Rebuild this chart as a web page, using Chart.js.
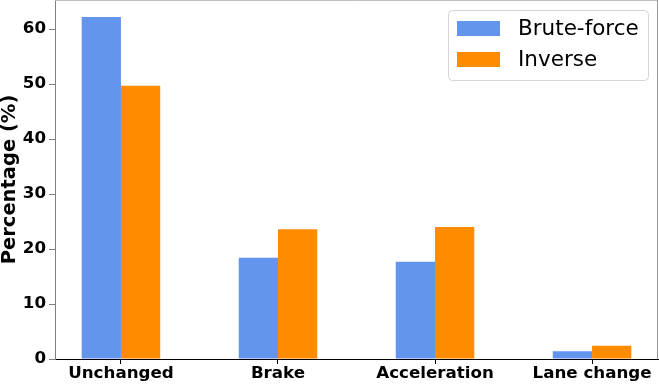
<!DOCTYPE html>
<html>
<head>
<meta charset="utf-8">
<script src="https://cdn.jsdelivr.net/npm/chart.js@4/dist/chart.umd.min.js"></script>
<style>
html,body{margin:0;padding:0;background:#fff;}
#wrap{width:659px;height:384px;position:relative;}
</style>
</head>
<body>
<div id="wrap"><canvas id="c" width="659" height="384"></canvas></div>
<script>
const categories = ["Unchanged", "Brake", "Acceleration", "Lane change"];
const bruteForce = [62.2, 18.4, 17.7, 1.4];
const inverse = [49.7, 23.6, 24.0, 2.4];
const yTicks = [0, 10, 20, 30, 40, 50, 60];
const seriesNames = ["Brute-force", "Inverse"];
const seriesColors = ["#6495ED", "#FF8C00"];

const toPoints = arr => arr.map((v, i) => ({x: i, y: v}));

const spinesPlugin = {
  id: 'spines',
  afterDraw(chart) {
    const ctx = chart.ctx, a = chart.chartArea;
    ctx.save();
    ctx.lineWidth = 1;
    ctx.strokeStyle = '#bfbfbf';
    ctx.beginPath();
    ctx.moveTo(a.left, a.top + 0.5);
    ctx.lineTo(a.right, a.top + 0.5);
    ctx.stroke();
    ctx.strokeStyle = '#999999';
    ctx.beginPath();
    ctx.moveTo(a.right - 0.5, a.top);
    ctx.lineTo(a.right - 0.5, a.bottom);
    ctx.stroke();
    ctx.restore();
  }
};

const legendPlugin = {
  id: 'customLegend',
  afterDraw(chart) {
    const ctx = chart.ctx;
    const x0 = 448.5, y0 = 10.5, w = 200, h = 70, r = 4;
    ctx.save();
    ctx.fillStyle = 'rgba(255,255,255,0.8)';
    ctx.strokeStyle = '#d5d5d5';
    ctx.lineWidth = 1;
    ctx.beginPath();
    ctx.roundRect(x0, y0, w, h, r);
    ctx.fill();
    ctx.stroke();
    ctx.font = '21.5px "DejaVu Sans"';
    ctx.textBaseline = 'middle';
    ctx.textAlign = 'left';
    chart.data.datasets.forEach((ds, i) => {
      const py = 21 + i * 31;
      ctx.fillStyle = ds.backgroundColor;
      ctx.fillRect(457, py, 43, 15);
      ctx.fillStyle = '#000';
      ctx.fillText(ds.label, 518, py + 8);
    });
    ctx.restore();
  }
};

const noPad = s => { s.paddingTop = 0; s.paddingBottom = 0; s.paddingLeft = 0; s.paddingRight = 0; };

new Chart(document.getElementById('c'), {
  type: 'bar',
  data: {
    datasets: [
      {label: seriesNames[0], data: toPoints(bruteForce), backgroundColor: seriesColors[0], borderWidth: 0},
      {label: seriesNames[1], data: toPoints(inverse), backgroundColor: seriesColors[1], borderWidth: 0}
    ]
  },
  options: {
    responsive: false,
    animation: false,
    devicePixelRatio: 1,
    layout: {padding: {top: 0, right: 1, bottom: 0, left: 0}},
    datasets: {bar: {categoryPercentage: 0.5, barPercentage: 1.0}},
    plugins: {legend: {display: false}, tooltip: {enabled: false}},
    scales: {
      x: {
        type: 'linear',
        min: -0.42,
        max: 3.42,
        offset: false,
        afterBuildTicks: s => { s.ticks = categories.map((c, i) => ({value: i})); },
        afterFit: s => { s.height = 25; noPad(s); },
        grid: {offset: false, drawOnChartArea: false, drawTicks: true, tickLength: 5, color: '#000'},
        border: {color: '#000', width: 1},
        ticks: {
          autoSkip: false, maxRotation: 0, padding: 0,
          color: '#000',
          font: {family: 'DejaVu Sans', size: 16.7, weight: 'bold'},
          callback: v => categories[v]
        }
      },
      y: {
        min: 0,
        max: 65.3,
        afterBuildTicks: s => { s.ticks = yTicks.map(v => ({value: v})); },
        afterFit: s => { s.width = 55; noPad(s); },
        grid: {drawOnChartArea: false, drawTicks: true, tickLength: 6, color: '#808080'},
        border: {color: '#808080', width: 1},
        ticks: {
          padding: 3,
          color: '#000',
          font: {family: 'DejaVu Sans', size: 16.7, weight: 'bold'}
        },
        title: {
          display: true,
          text: 'Percentage (%)',
          color: '#000',
          padding: {top: 0, bottom: 0},
          font: {family: 'DejaVu Sans', size: 19.5, weight: 'bold', lineHeight: 1}
        }
      }
    }
  },
  plugins: [spinesPlugin, legendPlugin]
});
</script>
</body>
</html>
